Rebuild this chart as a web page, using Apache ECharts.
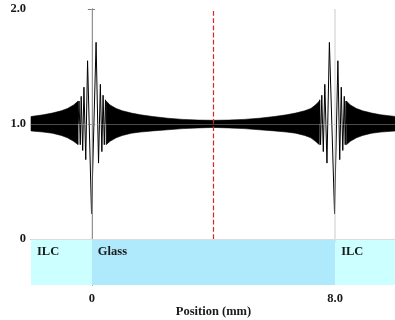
<!DOCTYPE html>
<html>
<head>
<meta charset="utf-8">
<script src="https://cdn.jsdelivr.net/npm/echarts@6/dist/echarts.min.js"></script>
<style>html,body{margin:0;padding:0;background:#fff;}#c{width:395px;height:320px;}</style>
</head>
<body>
<div id="c"></div>
<script>
// ---- data ----
const xTicks = [0, 8];
const xTickLabels = ['0', '8.0'];
const yTicks = [0, 1, 2];
const yTickLabels = ['0', '1.0', '2.0'];
const xAxisTitle = 'Position (mm)';

const regionNames = ['ILC', 'Glass', 'ILC'];
const regionStart = [-2, 0, 8];
const regionEnd = [0, 8, 10];
const bandTop = 0;
const bandBottom = -0.4;

const centerX = 4;
const boundaryX = [0, 8];

// envelope of the dense oscillation (null separates segments)
const envX  = [-2.0, -1.6, -1.3, -1.0, -0.8, -0.6, -0.45, null,
               0.47, 0.6, 0.8, 1.0, 1.3, 1.6, 2.0, 2.5, 3.0, 3.5, 4.0, 4.5, 5.0, 5.5, 6.0, 6.4, 6.7, 7.0, 7.2, 7.35, 7.48, null,
               8.37, 8.5, 8.7, 8.9, 9.2, 9.5, 10.0];
const envHi = [1.065, 1.08, 1.095, 1.115, 1.135, 1.165, 1.20, null,
               1.20, 1.165, 1.135, 1.115, 1.095, 1.08, 1.065, 1.05, 1.04, 1.034, 1.032, 1.034, 1.04, 1.05, 1.065, 1.08, 1.095, 1.115, 1.135, 1.165, 1.20, null,
               1.20, 1.165, 1.135, 1.115, 1.095, 1.08, 1.065];
const envLo = [0.94, 0.93, 0.92, 0.90, 0.88, 0.85, 0.82, null,
               0.82, 0.85, 0.88, 0.90, 0.92, 0.93, 0.94, 0.95, 0.96, 0.966, 0.97, 0.966, 0.96, 0.95, 0.94, 0.93, 0.92, 0.90, 0.88, 0.85, 0.82, null,
               0.82, 0.85, 0.88, 0.90, 0.92, 0.93, 0.94];

// resolved spikes near the interfaces (null separates left/right)
const spikeX = [-0.45, -0.42, -0.38, -0.35, -0.30, -0.26, -0.20, -0.14, -0.01, 0.14, 0.22, 0.28, 0.33, 0.37, 0.41, 0.45, 0.47, null,
                7.48, 7.49, 7.52, 7.56, 7.61, 7.66, 7.73, 7.81, 7.98, 8.09, 8.15, 8.20, 8.25, 8.30, 8.33, 8.36, 8.37];
const spikeY = [1.0, 1.20, 0.82, 1.24, 0.77, 1.32, 0.69, 1.55, 0.22, 1.71, 0.66, 1.345, 0.76, 1.25, 0.82, 1.21, 1.0, null,
                1.0, 1.21, 0.82, 1.25, 0.76, 1.345, 0.66, 1.71, 0.22, 1.55, 0.69, 1.32, 0.77, 1.24, 0.82, 1.20, 1.0];

// ---- styles ----
const regionColors = ['#ccffff', '#aeeafc', '#ccffff'];
const FONT = '"Liberation Serif", "Times New Roman", serif';
const TXT = '#1a1a1a';
const GUIDE = 'rgba(190,190,190,0.4)';

const chart = echarts.init(document.getElementById('c'), null, {renderer: 'canvas'});

const bandData = regionNames.map((n, i) => [regionStart[i], regionEnd[i], n, i]);
const spikeData = spikeX.map((x, i) => (x === null ? [null, null] : [x, spikeY[i]]));

chart.setOption({
  animation: false,
  grid: {left: 31, top: 9, width: 365, height: 276, containLabel: false, outerBoundsMode: 'none'},
  xAxis: [{
    type: 'value', min: -2, max: 10,
    axisLine: {show: false}, axisTick: {show: false}, splitLine: {show: false},
    axisLabel: {
      customValues: xTicks,
      formatter: v => xTickLabels[xTicks.indexOf(v)] ?? '',
      fontFamily: FONT, fontWeight: 'bold', fontSize: 12.5, color: TXT, margin: 7
    },
    name: xAxisTitle, nameLocation: 'middle', nameGap: 20, nameMoveOverlap: false,
    nameTextStyle: {fontFamily: FONT, fontWeight: 'bold', fontSize: 12.5, color: TXT}
  }, {
    type: 'value', min: -2, max: 10, position: 'top',
    axisLine: {show: true, lineStyle: {color: '#777', width: 1}},
    axisTick: {show: true, inside: true, length: 3, customValues: xTicks, lineStyle: {color: '#777'}},
    axisLabel: {show: false}, splitLine: {show: false}
  }],
  yAxis: [{
    type: 'value', min: bandBottom, max: 2,
    axisLine: {show: true, lineStyle: {color: '#777', width: 1}},
    axisTick: {show: true, inside: true, length: 3, customValues: yTicks, lineStyle: {color: '#777'}},
    splitLine: {show: false},
    axisLabel: {
      customValues: yTicks,
      formatter: v => yTickLabels[yTicks.indexOf(v)] ?? '',
      fontFamily: FONT, fontWeight: 'bold', fontSize: 12.5, color: TXT, margin: 5
    }
  }, {
    type: 'value', min: bandBottom, max: 2, position: 'right',
    axisLine: {show: true, lineStyle: {color: '#777', width: 1}},
    axisTick: {show: true, inside: true, length: 4, customValues: yTicks, lineStyle: {color: '#777'}},
    axisLabel: {show: false}, splitLine: {show: false}
  }],
  series: [
    {
      type: 'custom', name: 'regions', z: 1, silent: true,
      data: bandData,
      renderItem: (params, api) => {
        const i = api.value(3);
        const p0 = api.coord([api.value(0), bandTop]);
        const p1 = api.coord([api.value(1), bandBottom]);
        return {
          type: 'group',
          children: [{
            type: 'rect',
            shape: {x: p0[0], y: p0[1], width: p1[0] - p0[0], height: p1[1] - p0[1]},
            style: {fill: regionColors[i]}
          }, {
            type: 'text',
            style: {
              x: p0[0] + 6, y: p0[1] + 13,
              text: regionNames[i], fill: TXT,
              font: 'bold 12.5px ' + FONT,
              textAlign: 'left', textVerticalAlign: 'middle'
            }
          }]
        };
      }
    },
    {
      type: 'custom', name: 'envelope', z: 3, silent: true,
      data: [[0]],
      renderItem: (params, api) => {
        const polys = [];
        let hi = [], lo = [];
        const flush = () => {
          if (hi.length) {
            polys.push({type: 'polygon', shape: {points: hi.concat(lo.reverse())}, style: {fill: '#000', stroke: '#000', lineWidth: 0.6}});
          }
          hi = []; lo = [];
        };
        envX.forEach((x, i) => {
          if (x === null) { flush(); return; }
          hi.push(api.coord([x, envHi[i]]));
          lo.push(api.coord([x, envLo[i]]));
        });
        flush();
        return {type: 'group', children: polys};
      }
    },
    {
      type: 'line', name: 'signal', z: 4, silent: true,
      data: spikeData, showSymbol: false, connectNulls: false,
      lineStyle: {color: '#000', width: 1}
    },
    {
      type: 'line', name: 'guides', z: 5, silent: true, data: [],
      markLine: {
        silent: true, symbol: 'none', animation: false, label: {show: false},
        lineStyle: {color: GUIDE, width: 1, type: 'solid'},
        data: [
          [{coord: [-2, 1]}, {coord: [10, 1]}],
          [{coord: [-2, 0], lineStyle: {color: '#dcdcdc', width: 1}}, {coord: [10, 0]}],
          [{coord: [boundaryX[0], 0], lineStyle: {width: 2}}, {coord: [boundaryX[0], 2]}],
          [{coord: [boundaryX[1], 0], lineStyle: {width: 2}}, {coord: [boundaryX[1], 2]}]
        ]
      }
    },
    {
      type: 'line', name: 'center', z: 6, silent: true, data: [],
      markLine: {
        silent: true, symbol: 'none', animation: false, label: {show: false},
        lineStyle: {color: '#dd2222', width: 1.2, type: 'dashed', dashOffset: 0},
        data: [
          [{coord: [centerX, 0]}, {coord: [centerX, 2]}]
        ]
      }
    }
  ]
});
</script>
</body>
</html>
